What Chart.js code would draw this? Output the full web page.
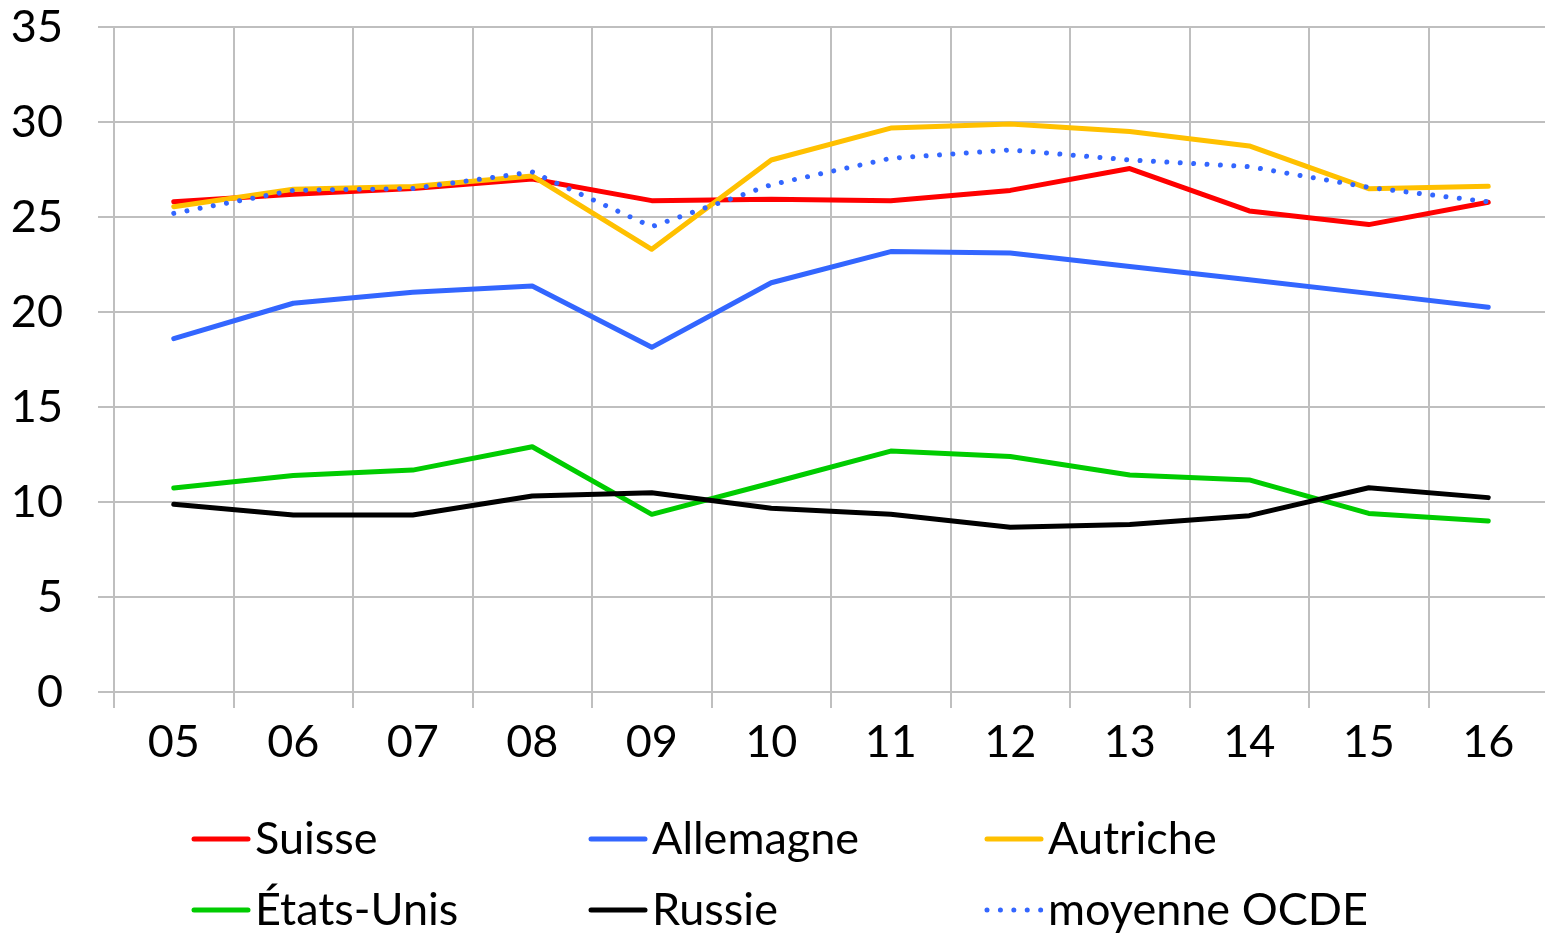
<!DOCTYPE html>
<html>
<head>
<meta charset="utf-8">
<script src="https://cdn.jsdelivr.net/npm/chart.js@4/dist/chart.umd.min.js"></script>
<style>
  html, body { margin: 0; padding: 0; background: #fff; overflow: hidden; }
  #wrap { width: 1545px; height: 934px; overflow: hidden; }
  canvas { display: block; }
</style>
</head>
<body>
<div id="wrap"><canvas id="c" width="1548" height="934"></canvas></div>
<script>
// ---- data ----
const years = ['05','06','07','08','09','10','11','12','13','14','15','16'];
const seriesNames = ['Suisse', 'Allemagne', 'Autriche', 'États-Unis', 'Russie', 'moyenne OCDE'];
const suisse    = [25.8, 26.2, 26.5, 27.0, 25.86, 25.93, 25.86, 26.4, 27.55, 25.32, 24.6, 25.78];
const allemagne = [18.6, 20.46, 21.04, 21.37, 18.14, 21.54, 23.18, 23.1, 22.4, 21.7, 20.98, 20.25];
const autriche  = [25.54, 26.46, 26.6, 27.16, 23.3, 28.0, 29.68, 29.9, 29.5, 28.74, 26.49, 26.62];
const etatsUnis = [10.74, 11.39, 11.68, 12.91, 9.35, 11.0, 12.68, 12.39, 11.42, 11.16, 9.4, 9.0];
const russie    = [9.88, 9.32, 9.32, 10.32, 10.49, 9.67, 9.35, 8.67, 8.82, 9.28, 10.75, 10.23];
const ocde      = [25.19, 26.4, 26.5, 27.37, 24.49, 26.7, 28.09, 28.53, 28.0, 27.65, 26.56, 25.8];
const yTicks = [0, 5, 10, 15, 20, 25, 30, 35];

// ---- styles ----
const FONT = 'Lato';
const colors = ['#FF0000', '#3366FF', '#FFC000', '#00CC00', '#000000', '#3366FF'];
const dashes = [[], [], [], [], [], [0.01, 13.4]];
const values = [suisse, allemagne, autriche, etatsUnis, russie, ocde];

const datasets = values.map((v, i) => ({
  label: seriesNames[i],
  data: v,
  borderColor: colors[i],
  backgroundColor: colors[i],
  borderWidth: 5,
  borderDash: dashes[i],
  borderCapStyle: 'round',
  borderJoinStyle: 'round',
  pointRadius: 0,
  tension: 0,
  fill: false,
  order: values.length - i
}));

// custom legend in fixed columns
const legendPlugin = {
  id: 'colLegend',
  afterDraw(chart) {
    const ctx = chart.ctx;
    const cols = [192, 589, 985];
    const rows = [839, 910];
    ctx.save();
    ctx.font = '45px ' + FONT;
    ctx.textBaseline = 'alphabetic';
    ctx.textAlign = 'left';
    chart.data.datasets.forEach((ds, i) => {
      const x = cols[i % 3], y = rows[Math.floor(i / 3)];
      ctx.beginPath();
      ctx.strokeStyle = ds.borderColor;
      ctx.lineWidth = ds.borderWidth;
      ctx.lineCap = 'round';
      ctx.setLineDash(ds.borderDash || []);
      ctx.moveTo(x + 2, y);
      ctx.lineTo(x + 56, y);
      ctx.stroke();
      ctx.setLineDash([]);
      ctx.fillStyle = '#000';
      ctx.fillText(ds.label, x + 63, y + 15);
    });
    ctx.restore();
  }
};

new Chart(document.getElementById('c'), {
  type: 'line',
  data: { labels: years, datasets },
  plugins: [legendPlugin],
  options: {
    responsive: false,
    animation: false,
    devicePixelRatio: 1,
    layout: { padding: { top: 27, left: 0, right: 0, bottom: 0 } },
    plugins: { legend: { display: false }, tooltip: { enabled: false } },
    scales: {
      x: {
        type: 'category',
        offset: true,
        grid: { offset: true, color: '#BFBFBF', lineWidth: 2, tickLength: 16, drawOnChartArea: true },
        border: { display: false },
        ticks: { color: '#000', font: { family: FONT, size: 45 }, padding: 7, maxRotation: 0, autoSkip: false },
        afterFit: s => { s.height = 934 - 692; s.paddingLeft = 0; s.paddingRight = 0; }
      },
      y: {
        min: 0, max: 35,
        afterBuildTicks: s => { s.ticks = yTicks.map(v => ({ value: v })); },
        grid: { color: '#BFBFBF', lineWidth: 2, tickLength: 16 },
        border: { display: false },
        ticks: { color: '#000', font: { family: FONT, size: 45 }, padding: 35 },
        afterFit: s => { s.width = 114; s.paddingTop = 0; s.paddingBottom = 0; }
      }
    }
  }
});
</script>
</body>
</html>
